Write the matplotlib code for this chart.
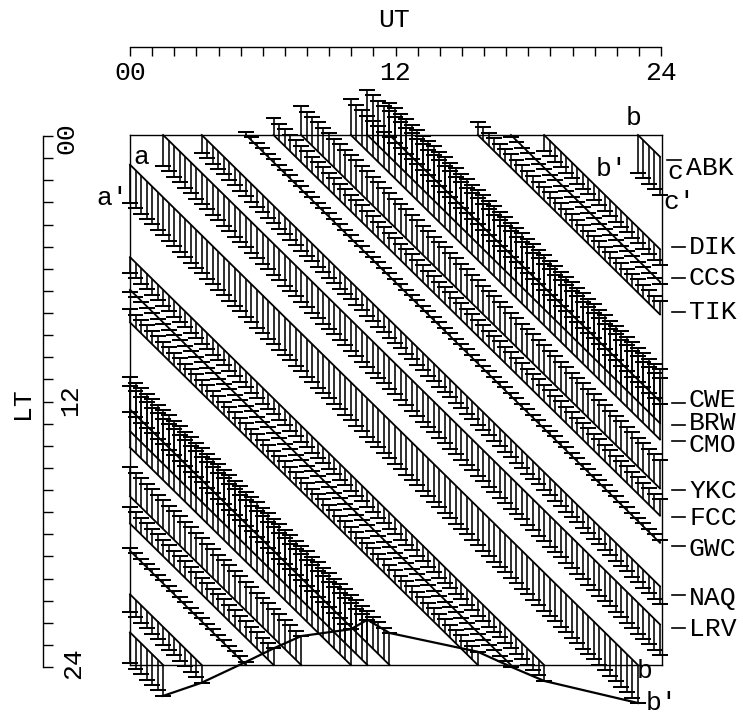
import numpy as np
from matplotlib import pyplot as plt
from matplotlib.lines import Line2D

W, H = 743, 717

# stations, UT hour where local midnight falls, offset of the tick from the line (hours)
stations = ['LRV', 'NAQ', 'GWC', 'FCC', 'YKC', 'CMO', 'BRW', 'CWE', 'TIK', 'CCS', 'DIK', 'ABK']
midnight_ut = [1.5, 3.25, 5.25, 6.5, 7.75, 10.0, 10.75, 11.75, 15.75, 17.25, 18.75, 23.0]
tick_offset = [1.40, 0.80, -0.14, -0.75, -1.31, -1.62, -2.05, -1.45, -0.60, 0.08, 0.72, 1.72]

ut_hours = np.arange(0, 24.25, 0.25)
ut_ticks = np.arange(0, 25)
lt_ticks = np.arange(0, 25)

LT_RATE = 0.985  # lines are a bit flatter than 1:1 on the original


def px(x, y):
    return x / W, 1 - y / H


plt.rcParams['font.family'] = ['Liberation Mono', 'DejaVu Sans Mono']
fig = plt.figure(figsize=(W / 100, H / 100), dpi=100)

left, right, top, bottom = 130, 662, 135, 665
ax = fig.add_axes([left / W, 1 - bottom / H, (right - left) / W, (bottom - top) / H])
ax.set_xlim(0, 24 * (right - left) / 530)
ax.set_ylim(24, 0)
ax.set_xticks([])
ax.set_yticks([])
for s in ax.spines.values():
    s.set_linewidth(1.0)

for ut0, off in zip(midnight_ut, tick_offset):
    early = ut_hours[ut_hours <= ut0]
    late = ut_hours[ut_hours >= ut0]
    for part, base in ((early, 24), (late, 0)):
        lt = base + (part - ut0) * LT_RATE
        ax.plot(part, lt, color='black', lw=1.3, clip_on=False, zorder=3)
        ax.vlines(part, lt, lt + off, color='black', lw=1.15, clip_on=False, zorder=2)
        ax.hlines(lt + off, part - 0.36, part + 0.36, color='black', lw=1.45, clip_on=False, zorder=2)

# curve through the tick ends at local midnight
order = np.argsort(midnight_ut)
curve_x = np.array(midnight_ut)[order]
curve_y = 24 + np.array(tick_offset)[order]
ax.plot(curve_x, curve_y, color='black', lw=1.6, clip_on=False, zorder=4)

# UT scale
ut_ax = fig.add_axes([130 / W, 1 - 47 / H, 531 / W, 0.0001])
ut_ax.set_xlim(0, 24)
ut_ax.set_yticks([])
for name in ['left', 'right', 'bottom']:
    ut_ax.spines[name].set_visible(False)
ut_ax.spines['top'].set_linewidth(1.0)
ut_ax.xaxis.set_ticks_position('bottom')
ut_ax.set_xticks(ut_ticks)
ut_ax.set_xticklabels([])
ut_ax.tick_params(axis='x', direction='out', length=6.5, width=1.0)

# LT scale
lt_ax = fig.add_axes([43 / W, 1 - 667 / H, 0.0001, 531 / H])
lt_ax.set_ylim(24, 0)
lt_ax.set_xticks([])
for name in ['top', 'right', 'bottom']:
    lt_ax.spines[name].set_visible(False)
lt_ax.spines['left'].set_linewidth(1.0)
lt_ax.yaxis.set_ticks_position('right')
lt_ax.set_yticks(lt_ticks)
lt_ax.set_yticklabels([])
lt_ax.tick_params(axis='y', direction='out', length=7, width=1.0)

fs = 19
for x, y, t in [(130, 73, '00'), (395, 73, '12'), (661, 73, '24'), (394, 20, 'UT')]:
    fig.text(*px(x, y), t, fontsize=fs, ha='center', va='center')
for x, y, t in [(66, 138, '00'), (70, 400, '12'), (73, 663, '24'), (22, 403, 'LT')]:
    fig.text(*px(x, y), t, fontsize=fs, ha='center', va='center', rotation=90)

# station labels with their dash
label_y = {'ABK': 168, 'DIK': 247, 'CCS': 278, 'TIK': 312, 'CWE': 400, 'BRW': 423, 'CMO': 445,
           'YKC': 491, 'FCC': 518, 'GWC': 549, 'NAQ': 598, 'LRV': 629}
dash_y = {'ABK': 160, 'DIK': 247, 'CCS': 278, 'TIK': 312, 'CWE': 403, 'BRW': 425, 'CMO': 441,
          'YKC': 490, 'FCC': 517, 'GWC': 546, 'NAQ': 595, 'LRV': 628}
for name in stations:
    x = 689 if name != 'ABK' else 686
    dash = (672, 685) if name != 'ABK' else (667, 681)
    fig.text(*px(x, label_y[name]), name, fontsize=fs, ha='left', va='center')
    fig.add_artist(Line2D([px(dash[0], 0)[0], px(dash[1], 0)[0]], [px(0, dash_y[name])[1]] * 2,
                          color='black', lw=1.2))

for x, y, t in [(141, 157, 'a'), (112, 198, "a'"), (634, 118, 'b'), (612, 169, "b'"),
                (675, 172, 'c'), (679, 202, "c'"), (645, 671, 'b'), (662, 703, "b'")]:
    fig.text(*px(x, y), t, fontsize=fs, ha='center', va='center')

fig.savefig('out.png', dpi=100)
